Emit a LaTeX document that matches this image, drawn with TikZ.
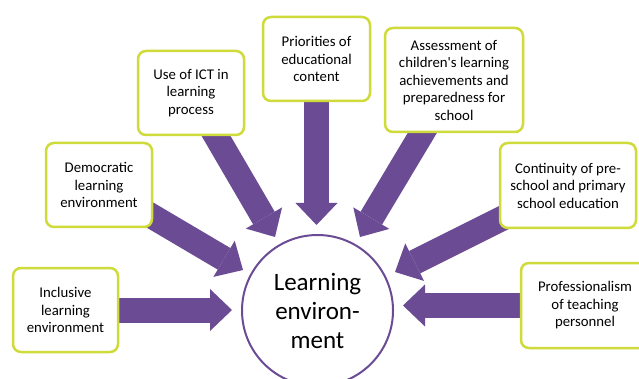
\documentclass[tikz,border=0pt]{standalone}
\usepackage{fontspec}
\setmainfont{Carlito}[Ligatures=TeXOff]
\usetikzlibrary{arrows.meta}
\definecolor{arrpurple}{RGB}{106,75,148}
\definecolor{boxlime}{RGB}{206,219,58}
\pgfdeclarelayer{background}
\pgfsetlayers{background,main}
\tikzset{
 box/.style={draw=boxlime, line width=2.5pt, fill=white, rounded corners=8pt, align=center, font=\fontsize{14.8}{17.5}\selectfont, inner sep=0pt},
 bigarrow/.style={draw=arrpurple, line width=25pt, -{Triangle[width=42pt,length=22pt,line width=0pt]}},
 hub/.style={circle, draw=arrpurple, line width=2pt, fill=white, minimum size=151pt, inner sep=0pt, align=center, font=\fontsize{25}{29}\selectfont}
}
\begin{document}
\begin{tikzpicture}[x=1pt,y=-1pt]
\useasboundingbox (0,0) rectangle (639,379);
\node[hub] (hub) at (317.5,310.5) {Learning\\environ-\\ment};
\node[box, minimum width=105pt, minimum height=84pt] (incl) at (65.5,310) {Inclusive\\learning\\environment};
\node[box, minimum width=106pt, minimum height=84pt] (demo) at (99,185) {Democratic\\learning\\environment};
\node[box, minimum width=106pt, minimum height=84pt] (ict) at (191,93) {Use of ICT in\\learning\\process};
\node[box, minimum width=107pt, minimum height=84pt] (prio) at (316.5,59) {Priorities of\\educational\\content};
\node[box, minimum width=138pt, minimum height=104pt] (assess) at (454,80) {Assessment of\\children's learning\\achievements and\\preparedness for\\school};
\node[box, minimum width=136pt, minimum height=85pt] (cont) at (568,185.5) {Continuity of pre-\\school and primary\\school education};
\node[box, minimum width=128pt, minimum height=85pt] (prof) at (585,305.5) {Professionalism\\of teaching\\personnel};
\coordinate (t1) at (232,310);
\coordinate (t2) at (243,270);
\coordinate (t3) at (275,237);
\coordinate (t4) at (316.5,225);
\coordinate (t5) at (360,237);
\coordinate (t6) at (395,272);
\coordinate (t7) at (403,305.5);
\begin{pgfonlayer}{background}
\draw[bigarrow] (incl.center) -- (t1);
\draw[bigarrow] (demo.center) -- (t2);
\draw[bigarrow] (ict.center) -- (t3);
\draw[bigarrow] (prio.center) -- (t4);
\draw[bigarrow] (assess.center) -- (t5);
\draw[bigarrow] (cont.center) -- (t6);
\draw[bigarrow] (prof.center) -- (t7);
\end{pgfonlayer}
\end{tikzpicture}
\end{document}
